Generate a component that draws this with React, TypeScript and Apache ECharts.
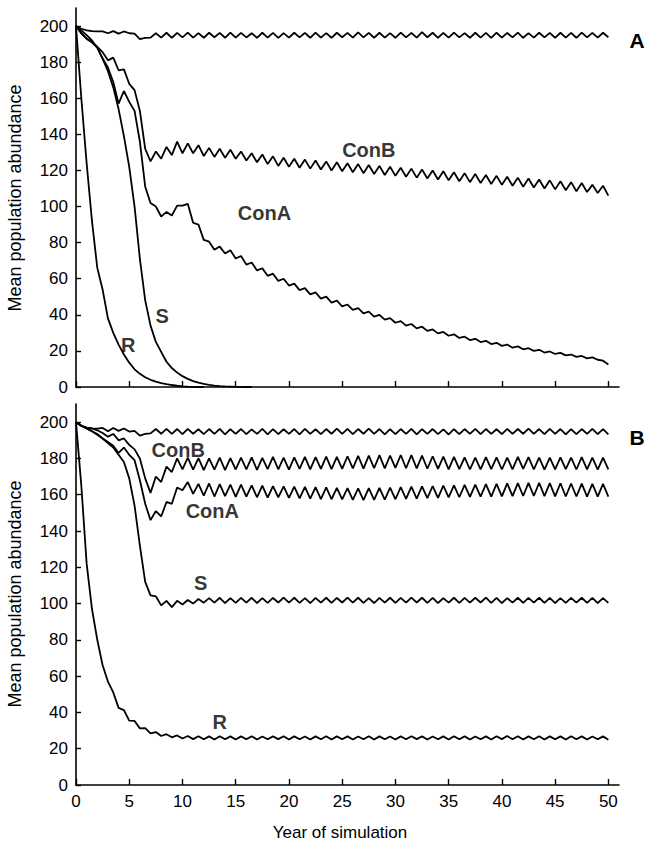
import React, { useEffect, useRef } from "react";
import * as echarts from "echarts";

const YEARS: number[] = Array.from({ length: 101 }, (_, i) => i * 0.5);
const X_TICKS = [0, 5, 10, 15, 20, 25, 30, 35, 40, 45, 50];
const Y_TICKS = [0, 20, 40, 60, 80, 100, 120, 140, 160, 180, 200];

// Panel A
const A_TOP = [200,198.5,197.6,197.2,197.0,197.0,196.0,197.2,195.8,197.0,
196.0,195.8,192.8,193.4,193.6,196.0,193.6,196.3,193.5,196.2,
193.7,196.4,193.6,196.1,193.5,196.3,193.8,196.2,193.5,196.4,
193.6,196.2,193.7,196.0,193.5,196.3,193.6,196.2,193.4,196.1,
193.6,196.3,193.7,196.2,193.5,196.4,193.6,196.1,193.5,196.3,
193.8,196.2,193.6,196.5,193.7,196.2,193.5,196.3,193.6,196.1,
193.5,196.4,193.7,196.2,193.6,196.6,193.8,196.3,193.5,196.2,
193.6,196.4,193.7,196.1,193.5,196.3,193.6,196.2,193.4,196.3,
193.6,196.2,193.7,196.4,193.5,196.1,193.6,196.3,193.7,196.2,
193.5,196.3,193.6,196.2,193.5,196.4,193.7,196.2,193.6,196.3,
193.8];
const A_CONB = [200,196,193,191,188.5,185.5,181,182.5,175.5,176,
168,164.5,153,132,125,130.5,126.5,133,128.5,136,
129.5,135,129.5,134,128,132.5,127.5,132,127,131.5,
126.5,130.5,125.5,129.5,124.5,128.8,123.5,127.8,122.5,127,
122,126.5,121.5,126,121,125.5,120.5,125,120,124.5,
119.5,124,119,123.5,118.5,123,118,122.5,117.5,122,
117,121.5,116.5,121,116,120.5,115.5,120,115,119.5,
114.5,119,114,118.5,113.5,118,113,117.5,112.5,117,
112,116.5,111.5,116,111,115.5,110.5,115,110,114.5,
109.5,114,109,113.5,108.5,113,108,112,107.5,111.5,
106];
const A_CONA = [200,196,193,191,188,182,177,169,157,164,
158,153,136,111,102,100,94.5,97,95,100.5,
100.5,101.5,91,90,81.5,80.5,76,77.8,74,75.8,
71.2,72.6,67.8,69,64.6,65.8,61.6,62.8,58.8,60,
56.2,57.3,53.7,54.8,51.3,52.4,49,50.1,46.8,47.9,
44.7,45.7,42.7,43.7,40.8,41.8,39,40,37.3,38.2,
35.6,36.5,34,34.9,32.5,33.4,31.1,31.9,29.7,30.5,
28.4,29.2,27.2,27.9,26,26.7,24.9,25.6,23.8,24.5,
22.8,23.5,21.8,22.5,20.9,21.5,20,20.6,19.1,19.7,
18.3,18.9,17.5,18,16.7,17.2,15.9,16.4,15.1,14.6,
12.5];
const A_S = [200,197.5,195,192,188,182,175,166,154,139,
122,100,71,48,34,25,19.5,14,10.5,8,
6,4.5,3.3,2.4,1.7,1.2,0.8,0.5,0.3,0.2,
0.1,0.05,0,0];
const A_R = [200,160,124,92,66,54,38,30,23.5,18,
13.5,9.8,7.3,5.4,4,3,2.2,1.6,1.1,0.7,
0.4,0.2,0.1,0,0];

// Panel B
const B_TOP = [200,198,197,196.6,196.4,196.8,195,196.8,195.2,196.5,
194.8,195.2,192.6,193.5,193.8,196.2,193.6,196.3,193.5,196.2,
193.4,196.3,193.6,196.1,193.4,196.2,193.5,196.3,193.3,196.1,
193.5,196.2,193.4,196.0,193.5,196.3,193.3,196.2,193.4,196.1,
193.5,196.2,193.3,196.3,193.5,196.1,193.4,196.2,193.6,196.4,
193.5,196.3,193.4,196.2,193.6,196.4,193.5,196.2,193.3,196.1,
193.4,196.2,193.5,196.3,193.3,196.1,193.5,196.2,193.4,196.0,
193.2,196.1,193.4,196.2,193.5,196.3,193.4,196.2,193.5,196.1,
193.4,196.3,193.5,196.2,193.6,196.4,193.5,196.2,193.4,196.3,
193.5,196.2,193.3,196.1,193.4,196.2,193.5,196.3,193.4,196.2,
193.2];
const B_CONB = [200,198,197,196.5,195.5,194,192,193.5,190,191,
187.5,185,180,169,161,170,167,175.5,172.5,180,
174,180.5,173.8,180.2,173.5,180,173.8,180.4,173.6,180.2,
173.9,180.5,174,180.6,173.7,180.3,174.1,180.8,174,180.5,
173.8,180.6,174.2,180.9,174,180.7,174.3,181,174.1,180.8,
174.2,181.2,174.5,181.4,174.4,181.5,174.6,181.8,174.5,181.6,
174.8,181.9,174.6,181.8,174.5,181.5,174.3,181.2,174.2,181,
174,180.8,174.1,180.6,173.9,180.5,174,180.7,174.1,180.6,
173.9,180.5,174,180.8,174.2,180.7,174,180.5,173.8,180.4,
174,180.6,174.1,180.5,173.9,180.7,174,180.5,173.8,180.4,
174];
const B_CONA = [200,198,196.5,195,193.5,191,189,187,183,186,
182,179,168,155,146,151,148,156,155,164,
162.5,167,160.5,166,159.5,166.2,159,165.8,159.2,165.5,
158.8,165.6,159,165.2,158.6,165,158.4,164.8,158.5,164.6,
158.2,164.5,158,164.3,157.8,164.2,157.6,164,157.5,163.8,
157.4,163.6,157.2,163.5,157,163.6,157.2,163.8,157.3,163.9,
157.5,164.2,157.7,164.4,157.9,164.6,158.1,164.8,158.3,165,
158.5,165.2,158.6,165.4,158.8,165.6,158.9,165.8,159,166,
159.1,166.2,159.2,166.4,159.3,166.5,159.3,166.6,159.2,166.4,
159.1,166.3,159,166.2,159,166.1,158.9,166,158.9,166,
158.9];
const B_S = [200,198,196.5,195,193,191,188.5,186,182,178,
169,154,132,112,104.5,104,99,101.5,98,101.5,
99.5,102,100,102.5,100.5,103,100.5,103.2,100.3,103,
100.4,103.1,100.5,103.2,100.3,103,100.4,103.1,100.6,103.3,
100.5,103.2,100.4,103,100.3,103.1,100.5,103.2,100.4,103.1,
100.6,103.3,100.5,103.2,100.4,103,100.3,103.1,100.5,103.2,
100.4,103.1,100.5,103.3,100.6,103.2,100.4,103.1,100.3,103,
100.5,103.2,100.4,103.1,100.5,103.2,100.6,103.3,100.4,103.1,
100.3,103,100.5,103.2,100.4,103.1,100.5,103.2,100.4,103.1,
100.3,103,100.4,103.1,100.5,103.2,100.4,103.1,100.3,103,
100.4];
const B_R = [200,165,122,97,80,66,57,51,42.5,41.3,
35.5,35.3,31.2,31.4,28.5,29.2,27,28,26.3,27.3,
25.6,27,25.3,26.9,25.2,26.8,25.1,26.9,25.2,26.8,
25.1,26.8,25.2,26.9,25.1,26.7,25.2,26.8,25.3,26.9,
25.1,26.8,25.2,26.7,25.1,26.8,25.2,26.9,25.1,26.8,
25.2,26.8,25.1,26.7,25.2,26.9,25.1,26.8,25.2,26.7,
25.1,26.8,25.2,26.9,25.3,26.8,25.1,26.7,25.2,26.8,
25.1,26.9,25.2,26.8,25.1,26.7,25.2,26.8,25.1,26.9,
25.3,27,25.2,26.9,25.1,26.8,25.2,26.9,25.1,26.8,
25.2,26.8,25.1,26.9,25.2,26.8,25.1,26.7,25.2,26.8,
25];

const LABELS_A = [
  { name: "ConB", value: [27.5, 131.3] },
  { name: "ConA", value: [17.7, 96.4] },
  { name: "S", value: [8.1, 39.3] },
  { name: "R", value: [4.9, 23.3] },
];
const LABELS_B = [
  { name: "ConB", value: [9.6, 184.6] },
  { name: "ConA", value: [12.8, 151] },
  { name: "S", value: [11.7, 111.3] },
  { name: "R", value: [13.5, 34.7] },
];

const FONT = "'Liberation Sans', Arial, sans-serif";

function pairs(vals: number[]) {
  return vals.map((v, i) => [YEARS[i], v]);
}

function xAxis(idx: number, showLabels: boolean) {
  return {
    type: "value",
    gridIndex: idx,
    min: 0,
    max: 51,
    splitLine: { show: false },
    axisLine: { show: true, onZero: false, lineStyle: { color: "#000", width: 1.6 } },
    axisTick: { show: true, inside: true, length: 6, customValues: X_TICKS, lineStyle: { color: "#000", width: 1.4 } },
    axisLabel: { show: showLabels, customValues: X_TICKS, color: "#000", fontSize: 17, margin: 8, fontFamily: FONT },
  };
}

function yAxis(idx: number) {
  return {
    type: "value",
    gridIndex: idx,
    min: 0,
    max: 210,
    splitLine: { show: false },
    axisLine: { show: true, onZero: false, lineStyle: { color: "#000", width: 1.6 } },
    axisTick: { show: true, inside: true, length: 5, customValues: Y_TICKS, lineStyle: { color: "#000", width: 1.4 } },
    axisLabel: { customValues: Y_TICKS, color: "#000", fontSize: 17, margin: 8, fontFamily: FONT },
  };
}

function line(vals: number[], idx: number, name: string) {
  return {
    type: "line",
    name,
    xAxisIndex: idx,
    yAxisIndex: idx,
    data: pairs(vals),
    showSymbol: false,
    symbol: "none",
    lineStyle: { color: "#000", width: 1.8 },
    silent: true,
  };
}

function labels(data: any[], idx: number) {
  return {
    type: "scatter",
    xAxisIndex: idx,
    yAxisIndex: idx,
    symbolSize: 0,
    data,
    label: {
      show: true,
      position: "inside",
      formatter: "{b}",
      color: "#000",
      fontWeight: "bold",
      fontSize: 20,
      fontFamily: FONT,
    },
    silent: true,
  };
}

export default function App() {
  const ref = useRef<HTMLDivElement>(null);
  useEffect(() => {
    if (!ref.current) return;
    const chart = echarts.init(ref.current, null, { renderer: "svg" });
    const option: any = {
      animation: false,
      backgroundColor: "#fff",
      textStyle: { fontFamily: FONT },
      grid: [
        { left: 76, top: 8, width: 543, height: 379 },
        { left: 76, top: 404, width: 543, height: 381 },
      ],
      xAxis: [xAxis(0, false), xAxis(1, true)],
      yAxis: [yAxis(0), yAxis(1)],
      series: [
        line(A_TOP, 0, "A top"),
        line(A_CONB, 0, "A ConB"),
        line(A_CONA, 0, "A ConA"),
        line(A_S, 0, "A S"),
        line(A_R, 0, "A R"),
        labels(LABELS_A, 0),
        line(B_TOP, 1, "B top"),
        line(B_CONB, 1, "B ConB"),
        line(B_CONA, 1, "B ConA"),
        line(B_S, 1, "B S"),
        line(B_R, 1, "B R"),
        labels(LABELS_B, 1),
      ],
      graphic: [
        { type: "text", x: 637, y: 40, style: { text: "A", font: `bold 21px ${FONT}`, fill: "#000", textAlign: "center", textVerticalAlign: "middle" } },
        { type: "text", x: 637, y: 437, style: { text: "B", font: `bold 21px ${FONT}`, fill: "#000", textAlign: "center", textVerticalAlign: "middle" } },
        { type: "text", x: 15, y: 198, rotation: Math.PI / 2, style: { text: "Mean population abundance", font: `18px ${FONT}`, fill: "#000", textAlign: "center", textVerticalAlign: "middle" } },
        { type: "text", x: 15, y: 594, rotation: Math.PI / 2, style: { text: "Mean population abundance", font: `18px ${FONT}`, fill: "#000", textAlign: "center", textVerticalAlign: "middle" } },
        { type: "text", x: 340, y: 832, style: { text: "Year of simulation", font: `17px ${FONT}`, fill: "#000", textAlign: "center", textVerticalAlign: "middle" } },
      ],
    };
    chart.setOption(option);
    return () => chart.dispose();
  }, []);
  return (
    <div
      ref={ref}
      style={{ position: "absolute", left: 0, top: 0, width: 653, height: 850, background: "#fff" }}
    />
  );
}
